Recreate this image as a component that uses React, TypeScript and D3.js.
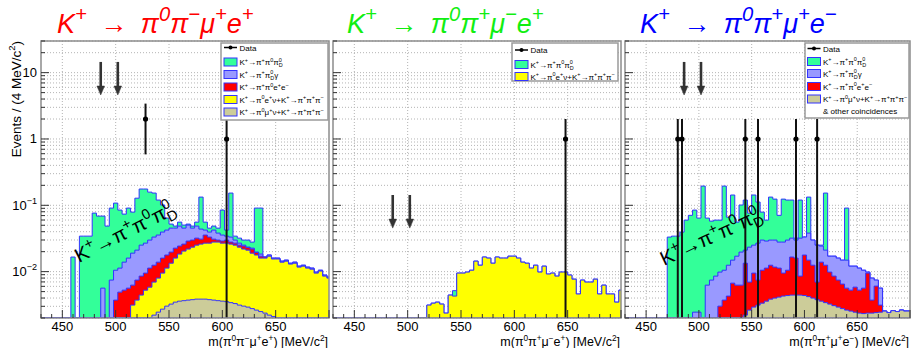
import React from 'react';
import * as d3 from 'd3';

// ---------- binning / axes ----------
const binLow = 430;
const binWidth = 4;
const massDomain: [number, number] = [430, 700];
const eventDomain: [number, number] = [0.002, 30];
const xTickValues = [450, 500, 550, 600, 650];
const yTickValues = [0.01, 0.1, 1, 10];
const yTickLabels = ['10^{−2}', '10^{−1}', '1', '10'];

// ---------- left panel: K+ -> pi0 pi- mu+ e+ (stack levels per 4 MeV bin, 0 = same as layer below) ----------
const leftPiPiPiD = [
  0, 0, 0, 0, 0, 0, 0, 0.0166, 0, 0.0343,
  0.0343, 0.0343, 0.0763, 0.0688, 0.0688, 0.0486, 0.0908, 0.108, 0.0847, 0.0737,
  0.0908, 0.079, 0.128, 0.176, 0.176, 0.158, 0.153, 0.12, 0.101, 0.0642,
  0.0521, 0.0486, 0.0558, 0.0503, 0.0521, 0.0486, 0.0558, 0.133, 0.0558, 0.0453,
  0.0486, 0.0453, 0.0847, 0.0423, 0.153, 0.0343, 0.032, 0.0299, 0.0299, 0.0279,
  0.0908, 0.0908, 0, 0, 0, 0, 0, 0, 0, 0,
  0, 0, 0, 0, 0, 0, 0, 0];
const leftPiPiDGamma = [
  0, 0, 0, 0, 0, 0, 0, 0, 0, 0,
  0, 0, 0, 0, 0.00564, 0, 0.00746, 0.0105, 0.0113, 0.0139,
  0.016, 0.019, 0.0211, 0.0251, 0.0269, 0.0299, 0.0332, 0.0356, 0.0395, 0.0423,
  0.0453, 0.0453, 0.0486, 0.0453, 0.0503, 0.0453, 0.0486, 0.0438, 0.0423, 0.0395,
  0.0423, 0.0381, 0.0356, 0.0343, 0.0332, 0.0299, 0.0269, 0.0251, 0.0234, 0.0226,
  0.0197, 0.0184, 0.0166, 0.0178, 0.016, 0.016, 0.0144, 0.0149, 0.0134, 0.0139,
  0.0121, 0.0125, 0.0117, 0.0113, 0.00984, 0.0105, 0.00887, 0.00827];
const leftPiPiEE = [
  0, 0, 0, 0, 0, 0, 0, 0, 0, 0,
  0, 0, 0, 0, 0, 0, 0, 0.00372, 0.00491, 0.00526,
  0.00564, 0.00626, 0.00746, 0.00856, 0.0095, 0.0113, 0.0125, 0.0139, 0.016, 0.0178,
  0.0197, 0.0226, 0.0243, 0.026, 0.0289, 0.0299, 0.032, 0.0309, 0.0356, 0.0332,
  0.0309, 0.0299, 0.0289, 0.0299, 0.0279, 0.0269, 0.0251, 0.0243, 0.0232, 0.0219,
  0.0195, 0.0171, 0.0166, 0, 0, 0, 0, 0, 0, 0,
  0, 0, 0, 0, 0, 0, 0, 0];
const leftKe3 = [
  0, 0, 0, 0, 0, 0, 0, 0, 0, 0,
  0, 0, 0, 0, 0, 0, 0, 0, 0, 0,
  0, 0.00313, 0.00372, 0.00443, 0.00526, 0.00584, 0.00695, 0.00799, 0.0095, 0.0113,
  0.0134, 0.016, 0.0184, 0.0204, 0.0219, 0.0234, 0.0251, 0.026, 0.0269, 0.0269,
  0.0279, 0.0279, 0.0269, 0.0269, 0.026, 0.0251, 0.0234, 0.0219, 0.0211, 0.019,
  0.0178, 0.016, 0.016, 0.0171, 0.0155, 0.0155, 0.0139, 0.0144, 0.013, 0.0134,
  0.0117, 0.0121, 0.0113, 0.0109, 0.0095, 0.0102, 0.00856, 0.00799];
const leftKmu3 = [
  0, 0, 0, 0, 0, 0, 0, 0, 0, 0,
  0, 0, 0, 0, 0, 0, 0, 0, 0, 0,
  0, 0, 0, 0, 0, 0, 0.00221, 0.00245, 0.00272, 0.00302,
  0.00324, 0.00347, 0.00359, 0.00365, 0.00372, 0.00378, 0.00385, 0.00385, 0.00385, 0.00378,
  0.00372, 0.00365, 0.00359, 0.00353, 0.00341, 0.0033, 0.00313, 0.00302, 0.00292, 0.00277,
  0.00263, 0.0025, 0.00237, 0.00221, 0.0021, 0.00199, 0, 0, 0, 0,
  0, 0, 0, 0, 0, 0, 0, 0];

// ---------- middle panel: K+ -> pi0 pi+ mu- e+ ----------
const midPiPiPiD = [
  0, 0, 0, 0, 0, 0, 0, 0, 0, 0,
  0, 0, 0, 0, 0, 0, 0, 0, 0, 0,
  0, 0, 0, 0, 0, 0, 0, 0, 0.00517, 0,
  0, 0, 0, 0, 0, 0, 0, 0, 0, 0,
  0, 0, 0, 0, 0, 0, 0, 0, 0, 0,
  0, 0, 0, 0, 0, 0, 0, 0, 0, 0,
  0, 0, 0, 0, 0, 0, 0, 0];
const midKe3 = [
  0, 0, 0, 0, 0, 0, 0, 0, 0, 0,
  0, 0, 0, 0, 0, 0, 0, 0, 0, 0,
  0, 0, 0.00313, 0.00335, 0.00347, 0.00324, 0.00237, 0.00443, 0.00428, 0.0095,
  0.0095, 0.00984, 0.0105, 0.0144, 0.0125, 0.0166, 0.016, 0.0134, 0.0166, 0.016,
  0.016, 0.0171, 0.0171, 0.016, 0.0139, 0.0134, 0.0113, 0.0125, 0.00984, 0.0121,
  0.0092, 0.0095, 0.00856, 0.00984, 0.00984, 0.00887, 0.0077, 0.0046, 0.00746, 0.00695,
  0.00695, 0.0077, 0.0046, 0.00626, 0.0046, 0.0046, 0.00347, 0.00526];

// ---------- right panel: K+ -> pi0 pi+ mu+ e- ----------
const rightPiPiPiD = [
  0, 0, 0, 0, 0, 0, 0, 0, 0, 0,
  0.0332, 0.0343, 0.0343, 0.0395, 0.0598, 0.0706, 0.0847, 0.0642, 0.195, 0.0642,
  0.0578, 0.0598, 0.0598, 0.195, 0.0664, 0.143, 0.0558, 0.101, 0.12, 0.0763,
  0.143, 0.112, 0.079, 0.0598, 0.133, 0.124, 0.0706, 0.124, 0.12, 0.12,
  0.032, 0.12, 0, 0.133, 0, 0, 0.0251, 0.153, 0, 0,
  0, 0, 0.0908, 0, 0, 0, 0, 0, 0, 0,
  0, 0, 0, 0, 0, 0, 0, 0];
const rightPiPiDGamma = [
  0, 0, 0, 0, 0, 0, 0, 0, 0, 0,
  0, 0, 0, 0, 0, 0, 0.00245, 0.00245, 0, 0.00626,
  0.00746, 0.00856, 0.00984, 0.0105, 0.0125, 0.0149, 0.0171, 0.0197, 0.0211, 0.0234,
  0.0251, 0.0269, 0.0299, 0.0289, 0.0299, 0.0299, 0.0279, 0.0279, 0.0299, 0.032,
  0.0299, 0.032, 0.0332, 0.0381, 0.0299, 0.0251, 0.0243, 0.0211, 0.0171, 0.0171,
  0.016, 0.0149, 0.0149, 0.0121, 0.0121, 0.0113, 0.0105, 0.00984, 0.00799, 0.00746,
  0.00564, 0, 0, 0, 0, 0, 0, 0];
const rightPiPiEE = [
  0, 0, 0, 0, 0, 0, 0, 0, 0, 0,
  0, 0, 0, 0, 0, 0, 0, 0, 0, 0,
  0, 0, 0.00302, 0.00372, 0.00428, 0.00671, 0.00626, 0.00626, 0.0134, 0.00695,
  0.0095, 0.00746, 0.0105, 0.0113, 0.0125, 0.0117, 0.0113, 0.0095, 0.0105, 0.0166,
  0.016, 0.00856, 0.0178, 0.0149, 0.0125, 0.00695, 0.0139, 0.0125, 0.00984, 0.00856,
  0.00746, 0.00649, 0.00564, 0.00526, 0.00584, 0.00526, 0.00564, 0.0095, 0.00372, 0.00605,
  0.00313, 0, 0, 0, 0, 0, 0, 0];
const rightKmu3Other = [
  0, 0, 0, 0, 0, 0, 0, 0, 0, 0,
  0, 0, 0, 0, 0, 0, 0, 0, 0, 0,
  0, 0, 0, 0, 0, 0, 0, 0, 0.00221, 0.00263,
  0.00292, 0.00313, 0.00335, 0.00359, 0.00385, 0.00399, 0.00413, 0.00428, 0.00436, 0.00443,
  0.00443, 0.00443, 0.00436, 0.0042, 0.00399, 0.00378, 0.00359, 0.00341, 0.00324, 0.00307,
  0.00292, 0.00277, 0.00263, 0.00254, 0.00245, 0.00237, 0.00233, 0.00237, 0.00237, 0.00241,
  0.00245, 0.00254, 0.00241, 0.00258, 0.0025, 0.00263, 0.00254, 0.00254];

// ---------- data (bin centre mass, counts with sqrt(N) errors) ----------
const leftDataMass = [528, 604];
const leftDataCount = [2, 1];
const midDataMass = [648];
const midDataCount = [1];
const rightDataMass = [480, 484, 544, 556, 592, 612];
const rightDataCount = [1, 1, 1, 1, 1, 1];

// ---------- arrows (mass, from value -> to value) ----------
const arrowMass = [486, 502];
const leftArrowSpan = [14.5, 4.6];
const midArrowSpan = [0.143, 0.0453];
const rightArrowSpan = [14.5, 4.6];

// ---------- texts ----------
const titles = ['K^{+}\u2002→\u2002π^{0}π^{−}μ^{+}e^{+}', 'K^{+}\u2002→\u2002π^{0}π^{+}μ^{−}e^{+}', 'K^{+}\u2002→\u2002π^{0}π^{+}μ^{+}e^{−}'];
const xTitles = ['m(π^{0}π^{−}μ^{+}e^{+}) [MeV/c^{2}]', 'm(π^{0}π^{+}μ^{−}e^{+}) [MeV/c^{2}]', 'm(π^{0}π^{+}μ^{+}e^{−}) [MeV/c^{2}]'];
const yTitle = 'Events / (4 MeV/c^{2})';
const bandLabel = 'K^{+}→π^{+}π^{0}π^{0}_{D}';
const legData = 'Data';
const legPiPiPiD = 'K^{+}→π^{+}π^{0}π^{0}_{D}';
const legPiPiDGamma = 'K^{+}→π^{+}π^{0}_{D}γ';
const legPiPiEE = 'K^{+}→π^{+}π^{0}e^{+}e^{−}';
const legKe3 = 'K^{+}→π^{0}e^{+}ν+K^{+}→π^{+}π^{+}π^{−}';
const legKmu3 = 'K^{+}→π^{0}μ^{+}ν+K^{+}→π^{+}π^{+}π^{−}';
const legOther = '& other coincidences';

// ---------- styles ----------
const C_GREEN = '#33ff99';
const C_LAV = '#9999ff';
const C_RED = '#ff0000';
const C_YEL = '#ffff00';
const C_KHAKI = '#cccc99';
const C_OUT = '#3333ff';
const FONT = '"Liberation Sans", Arial, Helvetica, sans-serif';
const TOP = 41;
const BOTTOM = 318;

type Seg = { t: string; k: 'n' | 'sup' | 'sub' };
function parseRich(s: string): Seg[] {
  const segs: Seg[] = [];
  let i = 0;
  let buf = '';
  while (i < s.length) {
    const c = s[i];
    if ((c === '^' || c === '_') && s[i + 1] === '{') {
      if (buf) { segs.push({ t: buf, k: 'n' }); buf = ''; }
      const j = s.indexOf('}', i + 2);
      segs.push({ t: s.slice(i + 2, j), k: c === '^' ? 'sup' : 'sub' });
      i = j + 1;
    } else { buf += c; i++; }
  }
  if (buf) segs.push({ t: buf, k: 'n' });
  return segs;
}

function rich(text: string, fs: number, supScale = 0.7, rise = 0.42, drop = 0.22) {
  const segs = parseRich(text);
  let cur = 0;
  return segs.map((sg, i) => {
    const target = sg.k === 'sup' ? -rise * fs : sg.k === 'sub' ? drop * fs : 0;
    let dx = 0;
    if (sg.k === 'sub' && i > 0 && segs[i - 1].k === 'sup') dx = -segs[i - 1].t.length * 0.56 * fs * supScale;
    const dy = target - cur;
    cur = target;
    return (
      <tspan key={i} dx={dx || undefined} dy={dy || undefined} fontSize={sg.k === 'n' ? fs : fs * supScale}>{sg.t}</tspan>
    );
  });
}

function stackLevels(layers: number[][]) {
  const out: number[][] = [];
  let prev = layers[0].map(() => 0);
  for (const arr of layers) {
    const lv = arr.map((v, i) => Math.max(v, prev[i]));
    out.push(lv);
    prev = lv;
  }
  return out;
}

type LegendRow = { kind: 'data' | 'swatch' | 'text'; label: string; fill?: string };
type PanelProps = {
  id: number; x0: number; x1: number;
  layers: { values: number[]; fill: string }[]; // bottom-up
  dataMass: number[]; dataCount: number[];
  arrowSpan: number[];
  title: string; titleColor: string; titleX: number;
  xTitle: string; yLabels: boolean;
  legend: { x: number; y: number; w: number; h: number; rowY: number[]; swX: number; txX: number; rows: LegendRow[] };
  band?: { x: number; y: number; angle: number };
};

function Panel(p: PanelProps) {
  const x = d3.scaleLinear().domain(massDomain).range([p.x0, p.x1]);
  const y = d3.scaleLog().domain(eventDomain).range([BOTTOM, TOP]);
  const yv = (v: number) => (v > eventDomain[0] ? y(v) : BOTTOM);
  const levels = stackLevels(p.layers.map((l) => l.values));
  const clip = `clip-${p.id}`;

  const yTicks: { v: number; major: boolean }[] = [];
  for (let e = -3; e <= 1; e++) for (let m = 1; m <= 9; m++) {
    const v = m * Math.pow(10, e);
    if (v >= eventDomain[0] * 0.999 && v <= eventDomain[1] * 1.001) yTicks.push({ v, major: m === 1 });
  }
  const xTicks = d3.range(massDomain[0], massDomain[1] + 1, 10).map((v) => ({ v, major: v % 50 === 0 }));

  const histPath = (lv: number[]) => {
    const pts: [number, number][] = [[x(binLow), BOTTOM]];
    lv.forEach((v, k) => {
      const yy = yv(v);
      pts.push([x(binLow + k * binWidth), yy], [x(binLow + (k + 1) * binWidth), yy]);
    });
    pts.push([x(binLow + lv.length * binWidth), BOTTOM]);
    return (d3.line()(pts) || '') + 'Z';
  };

  const L = p.legend;
  return (
    <g>
      <defs>
        <clipPath id={clip}><rect x={p.x0} y={TOP} width={p.x1 - p.x0} height={BOTTOM - TOP} /></clipPath>
      </defs>
      <rect x={p.x0} y={TOP} width={p.x1 - p.x0} height={BOTTOM - TOP} fill="#fff" />
      {/* grid */}
      <g stroke="#b4b4b4" strokeWidth={1} strokeDasharray="1 2">
        {xTickValues.map((v) => <line key={'gx' + v} x1={x(v)} x2={x(v)} y1={TOP} y2={BOTTOM} />)}
        {yTicks.map((t) => <line key={'gy' + t.v} x1={p.x0} x2={p.x1} y1={y(t.v)} y2={y(t.v)} />)}
      </g>
      {/* stacked histograms, drawn from the top level down */}
      <g clipPath={`url(#${clip})`}>
        {levels.map((lv, i) => ({ lv, i })).reverse().map(({ lv, i }) => (
          <path key={'h' + i} d={histPath(lv)} fill={p.layers[i].fill} stroke={C_OUT} strokeWidth={1} />
        ))}
        {/* data */}
        {p.dataMass.map((m, i) => {
          const n = p.dataCount[i];
          const e = Math.sqrt(n);
          return (
            <g key={'d' + i}>
              <line x1={x(m)} x2={x(m)} y1={yv(n + e)} y2={yv(n - e)} stroke="#111" strokeWidth={2} />
              <circle cx={x(m)} cy={y(n)} r={2.6} fill="#000" />
            </g>
          );
        })}
        {/* arrows */}
        {arrowMass.map((m, i) => {
          const ya = y(p.arrowSpan[0]);
          const yb = y(p.arrowSpan[1]);
          return (
            <g key={'a' + i} fill="#333" stroke="#333">
              <line x1={x(m)} x2={x(m)} y1={ya} y2={yb - 8} strokeWidth={2.6} />
              <path d={`M${x(m) - 3.8},${yb - 9}L${x(m) + 3.8},${yb - 9}L${x(m)},${yb}Z`} strokeWidth={0.5} />
            </g>
          );
        })}
      </g>
      {p.band && (
        <text transform={`translate(${p.band.x},${p.band.y}) rotate(${p.band.angle})`} fontSize={20} fill="#000" fontFamily={FONT}>
          {rich(bandLabel, 20, 0.72, 0.42, 0.25)}
        </text>
      )}
      {/* frame + ticks */}
      <rect x={p.x0} y={TOP} width={p.x1 - p.x0} height={BOTTOM - TOP} fill="none" stroke="#8c8c8c" strokeWidth={1.5} />
      <g stroke="#333" strokeWidth={1}>
        {yTicks.map((t) => <line key={'ty' + t.v} x1={p.x0} x2={p.x0 + (t.major ? 8 : 4)} y1={y(t.v)} y2={y(t.v)} />)}
        {xTicks.map((t) => <line key={'tx' + t.v} x1={x(t.v)} x2={x(t.v)} y1={BOTTOM} y2={BOTTOM - (t.major ? 8 : 4)} />)}
      </g>
      {/* tick labels */}
      <g fontFamily={FONT} fontSize={13} fill="#000">
        {xTickValues.map((v) => <text key={'lx' + v} x={x(v)} y={331} textAnchor="middle">{v}</text>)}
        {p.yLabels && yTickValues.map((v, i) => (
          <text key={'ly' + v} x={p.x0 - 4} y={y(v) + 4.5} textAnchor="end">{rich(yTickLabels[i], 13, 0.7, 0.45)}</text>
        ))}
      </g>
      {/* axis title */}
      <text x={p.x1 - 1} y={345.5} textAnchor="end" fontFamily={FONT} fontSize={12.5} fill="#000">{rich(p.xTitle, 12.5, 0.66, 0.36)}</text>
      {/* panel title */}
      <text x={p.titleX} y={33} fontFamily={FONT} fontStyle="italic" fontSize={27} fill={p.titleColor}>{rich(p.title, 27, 0.75, 0.45)}</text>
      {/* legend */}
      <g fontFamily={FONT} fontSize={8} fill="#000">
        <rect x={L.x} y={L.y} width={L.w} height={L.h} fill="#fff" stroke="#9a9a9a" strokeWidth={1.5} />
        {L.rows.map((r, i) => {
          const cy = L.rowY[i];
          return (
            <g key={'lg' + i}>
              {r.kind === 'data' && (
                <g>
                  <line x1={L.swX} x2={L.swX + 13} y1={cy} y2={cy} stroke="#000" strokeWidth={1.5} />
                  <circle cx={L.swX + 6.5} cy={cy} r={2} fill="#000" />
                </g>
              )}
              {r.kind === 'swatch' && (
                <rect x={L.swX} y={cy - 4} width={13} height={8} fill={r.fill} stroke={C_OUT} strokeWidth={1} />
              )}
              <text x={L.txX} y={cy + 3}>{rich(r.label, 8, 0.68, 0.42, 0.25)}</text>
            </g>
          );
        })}
      </g>
    </g>
  );
}

export default function App() {
  const panels: PanelProps[] = [
    {
      id: 0, x0: 41, x1: 329,
      layers: [
        { values: leftKmu3, fill: C_KHAKI },
        { values: leftKe3, fill: C_YEL },
        { values: leftPiPiEE, fill: C_RED },
        { values: leftPiPiDGamma, fill: C_LAV },
        { values: leftPiPiPiD, fill: C_GREEN },
      ],
      dataMass: leftDataMass, dataCount: leftDataCount, arrowSpan: leftArrowSpan,
      title: titles[0], titleColor: '#ff0000', titleX: 57,
      xTitle: xTitles[0], yLabels: true,
      legend: {
        x: 221, y: 43, w: 107, h: 77, rowY: [47.5, 62, 74.5, 87, 99.5, 112], swX: 224, txX: 239.5,
        rows: [
          { kind: 'data', label: legData },
          { kind: 'swatch', label: legPiPiPiD, fill: C_GREEN },
          { kind: 'swatch', label: legPiPiDGamma, fill: C_LAV },
          { kind: 'swatch', label: legPiPiEE, fill: C_RED },
          { kind: 'swatch', label: legKe3, fill: C_YEL },
          { kind: 'swatch', label: legKmu3, fill: C_KHAKI },
        ],
      },
      band: { x: 79, y: 263, angle: -27 },
    },
    {
      id: 1, x0: 333, x1: 621,
      layers: [
        { values: midKe3, fill: C_YEL },
        { values: midPiPiPiD, fill: C_GREEN },
      ],
      dataMass: midDataMass, dataCount: midDataCount, arrowSpan: midArrowSpan,
      title: titles[1], titleColor: '#11ee11', titleX: 347,
      xTitle: xTitles[1], yLabels: false,
      legend: {
        x: 512, y: 43, w: 106, h: 38, rowY: [50, 64.5, 76.5], swX: 515, txX: 530.5,
        rows: [
          { kind: 'data', label: legData },
          { kind: 'swatch', label: legPiPiPiD, fill: C_GREEN },
          { kind: 'swatch', label: legKe3, fill: C_YEL },
        ],
      },
    },
    {
      id: 2, x0: 625, x1: 910,
      layers: [
        { values: rightKmu3Other, fill: C_KHAKI },
        { values: rightPiPiEE, fill: C_RED },
        { values: rightPiPiDGamma, fill: C_LAV },
        { values: rightPiPiPiD, fill: C_GREEN },
      ],
      dataMass: rightDataMass, dataCount: rightDataCount, arrowSpan: rightArrowSpan,
      title: titles[2], titleColor: '#0000ff', titleX: 640,
      xTitle: xTitles[2], yLabels: false,
      legend: {
        x: 805, y: 43, w: 104, h: 75, rowY: [48.5, 61.5, 73.5, 86.5, 99, 111], swX: 807.5, txX: 823,
        rows: [
          { kind: 'data', label: legData },
          { kind: 'swatch', label: legPiPiPiD, fill: C_GREEN },
          { kind: 'swatch', label: legPiPiDGamma, fill: C_LAV },
          { kind: 'swatch', label: legPiPiEE, fill: C_RED },
          { kind: 'swatch', label: legKmu3, fill: C_KHAKI },
          { kind: 'text', label: legOther },
        ],
      },
      band: { x: 664, y: 266, angle: -25 },
    },
  ];

  return (
    <svg width={912} height={348} viewBox="0 0 912 348"
      style={{ position: 'absolute', left: 0, top: 0, background: '#fff', fontFamily: FONT }}>
      <rect x={0} y={0} width={912} height={348} fill="#fff" />
      {panels.map((p) => <Panel key={p.id} {...p} />)}
      <text transform="translate(21,41) rotate(-90)" textAnchor="end" fontFamily={FONT} fontSize={13.5} fill="#000">
        {rich(yTitle, 13.5, 0.7, 0.42)}
      </text>
    </svg>
  );
}
